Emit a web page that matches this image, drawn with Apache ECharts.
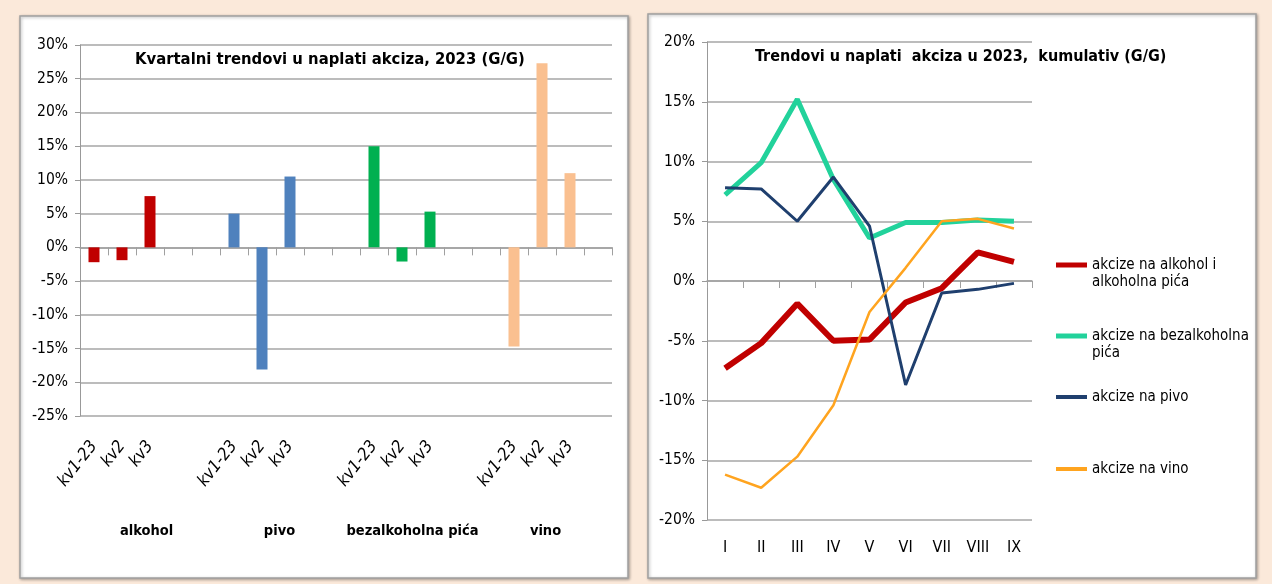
<!DOCTYPE html>
<html>
<head>
<meta charset="utf-8">
<script src="https://cdn.jsdelivr.net/npm/echarts@6/dist/echarts.min.js"></script>
<style>
html,body{margin:0;padding:0;background:#fbe9da;}
#main{width:1272px;height:584px;}
</style>
</head>
<body>
<div id="main"></div>
<script>
// left chart: quarterly trends
var quarters = ['kv1-23', 'kv2', 'kv3'];
var groups = ['alkohol', 'pivo', 'bezalkoholna pića', 'vino'];
var alkoholQ = [-2.2, -1.9, 7.6];
var pivoQ = [5.0, -18.1, 10.5];
var bezalkQ = [15.0, -2.1, 5.3];
var vinoQ = [-14.7, 27.3, 11.0];
var barColors = ['#c00000', '#4f81bd', '#00b050', '#fac090'];

// right chart: cumulative trends
var months = ['I', 'II', 'III', 'IV', 'V', 'VI', 'VII', 'VIII', 'IX'];
var alkoholCum = [-7.3, -5.2, -1.9, -5.0, -4.9, -1.8, -0.6, 2.4, 1.6];
var bezalkCum = [7.2, 9.9, 15.2, 8.5, 3.6, 4.9, 4.9, 5.1, 5.0];
var pivoCum = [7.8, 7.7, 5.0, 8.7, 4.6, -8.7, -1.0, -0.7, -0.2];
var vinoCum = [-16.2, -17.3, -14.7, -10.4, -2.6, 1.1, 5.0, 5.2, 4.4];
var lineNames = ['akcize na alkohol i alkoholna pića', 'akcize na bezalkoholna pića', 'akcize na pivo', 'akcize na vino'];
var legendText = ['\nakcize na alkohol i\nalkoholna pića', '\nakcize na bezalkoholna\npića', 'akcize na pivo', 'akcize na vino'];
var lineColors = ['#c00000', '#22d29b', '#1f3f6e', '#ffa41f'];
var lineWidths = [6, 5, 3, 2.5];

var font = "'Liberation Sans Narrow', 'DejaVu Sans Condensed', sans-serif";

// slots: 3 quarters + 2 blanks per group, last group + 1 blank
var slots = [];
var groupsQ = [alkoholQ, pivoQ, bezalkQ, vinoQ];
for (var g = 0; g < groups.length; g++) {
    for (var q = 0; q < quarters.length; q++) slots.push(g + '|' + quarters[q]);
    var blanks = g < groups.length - 1 ? 2 : 1;
    for (var b = 0; b < blanks; b++) slots.push(g + '|b' + b);
}
var barSeries = [];
for (var g = 0; g < groups.length; g++) {
    var d = slots.map(function (s) {
        var p = s.split('|');
        var qi = quarters.indexOf(p[1]);
        return (+p[0] === g && qi >= 0) ? groupsQ[g][qi] : null;
    });
    barSeries.push({
        type: 'bar', name: groups[g], xAxisIndex: 0, yAxisIndex: 0,
        data: d, barWidth: 11, barGap: '-100%',
        itemStyle: {color: barColors[g]}, animation: false
    });
}

var cumData = [alkoholCum, bezalkCum, pivoCum, vinoCum];
var lineSeries = cumData.map(function (d, i) {
    return {
        type: 'line', name: lineNames[i], xAxisIndex: 3, yAxisIndex: 1,
        data: d, symbol: 'none',
        lineStyle: {color: lineColors[i], width: lineWidths[i]},
        itemStyle: {color: lineColors[i]}, animation: false
    };
});

// each legend entry placed on its own, like the original
var legendTops = [239.5, 310.5, 388.5, 460.5];
var legends = lineNames.map(function (n, i) {
    return {
        data: [n], left: 1056, top: legendTops[i], padding: 0,
        icon: 'rect', itemWidth: 31, itemHeight: lineWidths[i] < 4 ? 4 : 5,
        selectedMode: false,
        formatter: function () { return legendText[i]; },
        textStyle: {fontFamily: font, fontSize: 15, color: '#000', lineHeight: 17}
    };
});

var gridLine = {show: true, lineStyle: {color: '#a6a6a6', width: 1.5}};

var chart = echarts.init(document.getElementById('main'));
chart.setOption({
    backgroundColor: '#fbe9da',
    graphic: [
        {type: 'rect', z: -10, shape: {x: 20, y: 16, width: 608, height: 562},
            style: {fill: '#fff', stroke: '#a0a0a0', lineWidth: 1.5, shadowBlur: 3, shadowColor: 'rgba(0,0,0,0.3)', shadowOffsetX: 1, shadowOffsetY: 1}},
        {type: 'rect', z: -10, shape: {x: 648, y: 14, width: 608, height: 564},
            style: {fill: '#fff', stroke: '#a0a0a0', lineWidth: 1.5, shadowBlur: 3, shadowColor: 'rgba(0,0,0,0.3)', shadowOffsetX: 1, shadowOffsetY: 1}}
    ],
    title: [
        {text: 'Kvartalni trendovi u naplati akciza, 2023 (G/G)', left: 130, top: 46,
            textStyle: {fontFamily: font, fontSize: 16.5, fontWeight: 'bold', color: '#000'}},
        {text: 'Trendovi u naplati  akciza u 2023,  kumulativ (G/G)', left: 750, top: 44,
            textStyle: {fontFamily: font, fontSize: 16, fontWeight: 'bold', color: '#000'}}
    ],
    legend: legends,
    grid: [
        {left: 80, top: 45, width: 532, height: 371},
        {left: 707, top: 42, width: 325, height: 478}
    ],
    xAxis: [
        {gridIndex: 0, type: 'category', data: slots, axisLine: {onZero: true, lineStyle: {color: '#a0a0a0', width: 1.5}},
            axisTick: {show: true, interval: 0, length: 8, lineStyle: {color: '#a0a0a0'}}, axisLabel: {show: false}},
        {gridIndex: 0, type: 'category', data: slots, position: 'bottom', axisLine: {show: false, onZero: false},
            axisTick: {show: false},
            axisLabel: {interval: 0, rotate: 52, margin: 27, fontFamily: font, fontSize: 17, fontStyle: 'italic', color: '#000',
                formatter: function (v) { var p = v.split('|')[1]; return p.charAt(0) === 'b' ? '' : p; }}},
        {gridIndex: 0, type: 'category', data: groups, position: 'bottom', offset: 100, axisLine: {show: false, onZero: false},
            axisTick: {show: false},
            axisLabel: {interval: 0, fontFamily: font, fontSize: 14.5, fontWeight: 'bold', color: '#000'}},
        {gridIndex: 1, type: 'category', data: months, axisLine: {onZero: true, lineStyle: {color: '#a0a0a0', width: 1.5}},
            axisTick: {show: true, interval: 0, length: 7, lineStyle: {color: '#a0a0a0'}}, axisLabel: {show: false}},
        {gridIndex: 1, type: 'category', data: months, position: 'bottom', axisLine: {show: false, onZero: false},
            axisTick: {show: false},
            axisLabel: {interval: 0, margin: 20, fontFamily: font, fontSize: 16, color: '#000'}}
    ],
    yAxis: [
        {gridIndex: 0, type: 'value', min: -25, max: 30, interval: 5,
            axisLine: {show: true, lineStyle: {color: '#999'}}, axisTick: {show: true, length: 5, lineStyle: {color: '#999'}},
            splitLine: gridLine,
            axisLabel: {margin: 12, fontFamily: font, fontSize: 15.5, color: '#000', formatter: '{value}%'}},
        {gridIndex: 1, type: 'value', min: -20, max: 20, interval: 5,
            axisLine: {show: true, lineStyle: {color: '#999'}}, axisTick: {show: true, length: 5, lineStyle: {color: '#999'}},
            splitLine: gridLine,
            axisLabel: {margin: 12, fontFamily: font, fontSize: 15.5, color: '#000', formatter: '{value}%'}}
    ],
    series: barSeries.concat(lineSeries)
});
</script>
</body>
</html>
